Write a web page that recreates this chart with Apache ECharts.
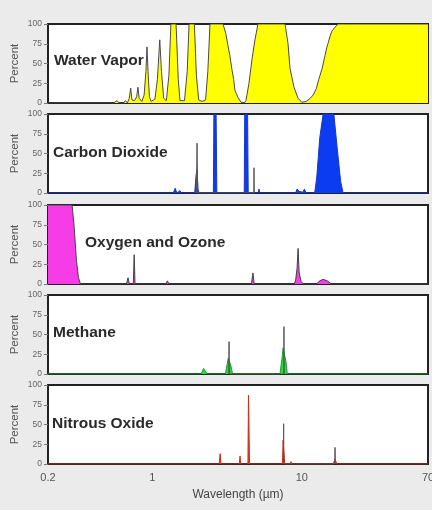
<!DOCTYPE html>
<html>
<head>
<meta charset="utf-8">
<script src="https://cdn.jsdelivr.net/npm/echarts@6/dist/echarts.min.js"></script>
<style>
  html, body { margin: 0; padding: 0; background: #ebebeb; }
  #chart { width: 432px; height: 510px; }
</style>
</head>
<body>
<div id="chart"></div>
<script>
// wavelength in micrometres, absorption in percent
var gasNames = ['Water Vapor', 'Carbon Dioxide', 'Oxygen and Ozone', 'Methane', 'Nitrous Oxide'];
var yTicks = [0, 25, 50, 75, 100];

var waterVapor = [
  [0.2, 0], [0.55, 0], [0.58, 3], [0.6, 0], [0.64, 0], [0.66, 3], [0.68, 0], [0.70, 6], [0.715, 19],
  [0.73, 4], [0.76, 3], [0.785, 8], [0.80, 20], [0.815, 6], [0.85, 2], [0.88, 10], [0.905, 40],
  [0.92, 71], [0.935, 40], [0.955, 8], [0.98, 2], [1.04, 5], [1.08, 30], [1.12, 80], [1.15, 40],
  [1.19, 6], [1.24, 3], [1.29, 35], [1.33, 100], [1.44, 100], [1.49, 30], [1.53, 3], [1.64, 3],
  [1.71, 40], [1.76, 100], [1.91, 100], [1.97, 35], [2.04, 4], [2.15, 2], [2.27, 4], [2.35, 40],
  [2.43, 100], [2.97, 100], [3.1, 88], [3.21, 72], [3.3, 60], [3.41, 42], [3.5, 30], [3.57, 16],
  [3.65, 12], [3.74, 7], [3.92, 1], [4.10, 0], [4.23, 3], [4.43, 25], [4.64, 55], [4.86, 80],
  [5.09, 100], [7.73, 100], [8.09, 75], [8.34, 44], [8.87, 20], [9.44, 6], [10.0, 1], [10.7, 2],
  [11.4, 6], [11.9, 10], [12.5, 18], [13.0, 30], [13.7, 44], [14.3, 60], [14.7, 70], [15.5, 85],
  [15.9, 91], [16.7, 96], [17.5, 100], [70, 100]
];

var carbonDioxide = [
  [0.2, 0], [1.38, 0], [1.42, 6], [1.46, 0], [1.5, 0], [1.53, 3], [1.56, 0], [1.92, 0], [1.96, 22],
  [1.99, 30], [2.02, 5], [2.05, 0], [2.56, 0], [2.58, 100], [2.67, 100], [2.70, 0], [4.12, 0],
  [4.15, 100], [4.34, 100], [4.38, 0], [5.1, 0], [5.17, 5], [5.24, 0], [9.1, 0], [9.3, 5],
  [9.6, 2], [10.2, 1], [10.4, 5], [10.7, 0], [12.2, 0], [12.6, 20], [13.2, 70], [13.9, 100],
  [16.4, 100], [17.2, 60], [18.2, 15], [18.9, 0], [70, 0]
];
var carbonDioxideLines = [[1.97, 0], [1.99, 63], [2.01, 0], [4.77, 0], [4.79, 32], [4.81, 0]];

var oxygenOzone = [
  [0.2, 100], [0.29, 100], [0.30, 70], [0.31, 30], [0.32, 8], [0.33, 0], [0.67, 0], [0.687, 8],
  [0.70, 0], [0.745, 0], [0.755, 37], [0.765, 0], [1.23, 0], [1.26, 4], [1.29, 0], [3.2, 0],
  [3.26, 2], [3.32, 0], [4.6, 0], [4.71, 14], [4.8, 0], [5.7, 0], [5.75, 2], [5.8, 0], [8.9, 0],
  [9.1, 5], [9.3, 20], [9.45, 45], [9.6, 15], [9.9, 3], [10.3, 0], [12.5, 0], [13.2, 4],
  [13.9, 6], [14.8, 4], [15.8, 0], [70, 0]
];

var methane = [
  [0.2, 0], [2.12, 0], [2.2, 7], [2.26, 9], [2.33, 0], [3.08, 0], [3.16, 12], [3.22, 20], [3.3, 20],
  [3.36, 10], [3.44, 0], [7.15, 0], [7.35, 18], [7.5, 33], [7.7, 33], [7.85, 15], [8.0, 0], [70, 0]
];
var methaneLines = [[3.24, 0], [3.26, 41], [3.28, 0], [7.58, 0], [7.6, 60], [7.62, 0]];

var nitrousOxide = [
  [0.2, 0], [2.80, 0], [2.84, 13], [2.88, 0], [3.82, 0], [3.86, 10], [3.90, 0], [4.36, 0],
  [4.40, 87], [4.43, 87], [4.47, 0], [7.42, 0], [7.5, 30], [7.62, 30], [7.7, 0], [8.4, 0],
  [8.47, 3], [8.55, 0], [16.2, 0], [16.7, 6], [17.2, 0], [70, 0]
];
var nitrousOxideLines = [[7.54, 0], [7.56, 51], [7.58, 0], [16.6, 0], [16.7, 21], [16.8, 0]];

var fills = [waterVapor, carbonDioxide, oxygenOzone, methane, nitrousOxide];
var spikes = [null, carbonDioxideLines, null, methaneLines, nitrousOxideLines];
var colors = ['#ffff00', '#0b3cf2', '#f53ce6', '#22e03a', '#ea3a1c'];
var edgeColors = ['#4a4a4a', '#1a36c8', '#444', '#1aa02a', '#c8301a'];

var tops = [24, 114, 205, 295, 385];
var titlePos = [[54, 53], [53, 145], [85, 235], [53, 325], [52, 416]];

var chart = echarts.init(document.getElementById('chart'));

var option = {
  backgroundColor: '#ebebeb',
  animation: false,
  title: [],
  grid: [],
  xAxis: [],
  yAxis: [],
  series: []
};

gasNames.forEach(function (name, i) {
  var last = i === gasNames.length - 1;

  option.title.push({
    text: name,
    left: titlePos[i][0],
    top: titlePos[i][1],
    padding: 0,
    textStyle: {
      fontFamily: 'Liberation Sans',
      fontSize: 15.5,
      fontWeight: 'bold',
      color: '#2a2a2a'
    }
  });

  option.grid.push({
    left: 48,
    right: 4,
    top: tops[i],
    height: 79,
    outerBoundsMode: 'none',
    show: true,
    backgroundColor: '#fff',
    borderColor: '#222',
    borderWidth: 2
  });

  option.xAxis.push({
    type: 'log',
    gridIndex: i,
    min: 0.2,
    max: 70,
    logBase: 10,
    name: last ? 'Wavelength (\u00b5m)' : '',
    nameLocation: 'middle',
    nameGap: 25,
    nameMoveOverlap: false,
    nameTextStyle: { fontFamily: 'Liberation Sans', fontSize: 12, color: '#444' },
    axisLine: { show: false },
    axisTick: { show: false },
    splitLine: { show: false },
    minorTick: { show: false },
    axisLabel: {
      show: last,
      showMinLabel: true,
      showMaxLabel: true,
      margin: 8,
      fontFamily: 'Liberation Sans',
      fontSize: 11,
      color: '#555'
    }
  });

  option.yAxis.push({
    type: 'value',
    gridIndex: i,
    min: yTicks[0],
    max: yTicks[yTicks.length - 1],
    interval: 25,
    name: 'Percent',
    nameLocation: 'middle',
    nameGap: 27,
    nameMoveOverlap: false,
    nameTextStyle: { fontFamily: 'Liberation Sans', fontSize: 11.5, color: '#555' },
    axisLine: { show: false },
    axisTick: { show: true, length: 4, lineStyle: { color: '#777' } },
    splitLine: { show: false },
    axisLabel: {
      margin: 6,
      fontFamily: 'Liberation Sans',
      fontSize: 8.5,
      color: '#666'
    }
  });

  option.series.push({
    type: 'line',
    xAxisIndex: i,
    yAxisIndex: i,
    data: fills[i],
    symbol: 'none',
    lineStyle: { color: edgeColors[i], width: 1 },
    areaStyle: { color: colors[i], opacity: 1 },
    z: 2
  });

  if (spikes[i]) {
    option.series.push({
      type: 'line',
      xAxisIndex: i,
      yAxisIndex: i,
      data: spikes[i],
      symbol: 'none',
      lineStyle: { color: '#555', width: 1 },
      z: 3
    });
  }
});

chart.setOption(option);
</script>
</body>
</html>
